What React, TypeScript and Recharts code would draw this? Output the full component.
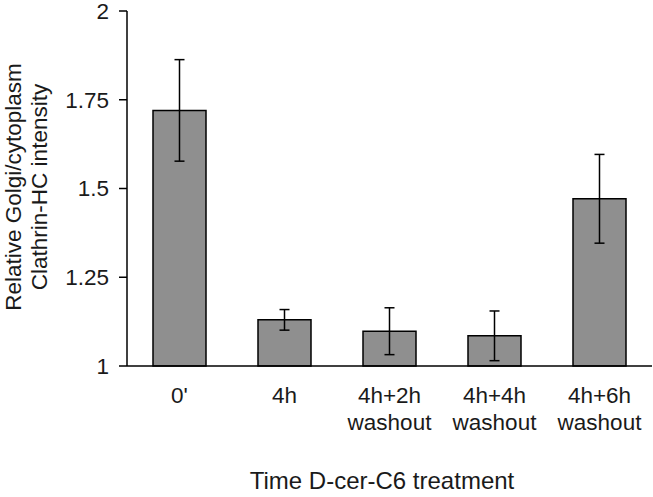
import React from 'react';
import { BarChart, Bar, XAxis, YAxis, ErrorBar, Label } from 'recharts';

const categories = ["0'", '4h', '4h+2h\nwashout', '4h+4h\nwashout', '4h+6h\nwashout'];
const values = [1.72, 1.13, 1.098, 1.085, 1.471];
const errors = [0.143, 0.029, 0.066, 0.07, 0.125];
const yTicks = [1, 1.25, 1.5, 1.75, 2];

const data = categories.map((name, i) => ({ name, value: values[i], err: errors[i] }));

const FONT = '"Liberation Sans", Arial, sans-serif';

const CategoryTick = (props: any) => {
  const { x, y, payload } = props;
  const lines = String(payload.value).split('\n');
  return (
    <text x={x} y={y} textAnchor="middle" fontFamily={FONT} fontSize={22.5} fill="#1a1a1a">
      {lines.map((line, i) => (
        <tspan key={i} x={x} dy={i === 0 ? 29 : 27}>
          {line}
        </tspan>
      ))}
    </text>
  );
};

const YTitle = () => (
  <g fontFamily={FONT} fontSize={22.5} fill="#1a1a1a">
    <text x={20.5} y={187} textAnchor="middle" transform="rotate(-90 20.5 187)">
      Relative Golgi/cytoplasm
    </text>
    <text x={47} y={187} textAnchor="middle" transform="rotate(-90 47 187)">
      Clathrin-HC intensity
    </text>
  </g>
);

const XTitle = () => (
  <text x={382} y={489} textAnchor="middle" fontFamily={FONT} fontSize={24} fill="#1a1a1a">
    Time D-cer-C6 treatment
  </text>
);

export default function App() {
  return (
    <div style={{ position: 'absolute', left: 0, top: 0, background: '#fff' }}>
      <BarChart
        width={653}
        height={497}
        data={data}
        margin={{ top: 11, right: 1, bottom: 0, left: 0 }}
      >
        <XAxis
          dataKey="name"
          height={131}
          tickLine={false}
          axisLine={{ stroke: '#000', strokeWidth: 1.5 }}
          tick={<CategoryTick />}
          interval={0}
        >
          <Label content={<XTitle />} />
        </XAxis>
        <YAxis
          width={127}
          domain={[1, 2]}
          ticks={yTicks}
          interval={0}
          tickSize={8}
          tickMargin={10}
          axisLine={{ stroke: '#000', strokeWidth: 1.5 }}
          tickLine={{ stroke: '#000', strokeWidth: 1.5 }}
          tick={{ fontFamily: FONT, fontSize: 22.5, fill: '#1a1a1a' }}
        >
          <Label content={<YTitle />} />
        </YAxis>
        <Bar
          dataKey="value"
          fill="#8f8f8f"
          stroke="#000"
          strokeWidth={1.5}
          barSize={53}
          isAnimationActive={false}
        >
          <ErrorBar dataKey="err" width={5} stroke="#000" strokeWidth={1.5} isAnimationActive={false} />
        </Bar>
      </BarChart>
    </div>
  );
}
